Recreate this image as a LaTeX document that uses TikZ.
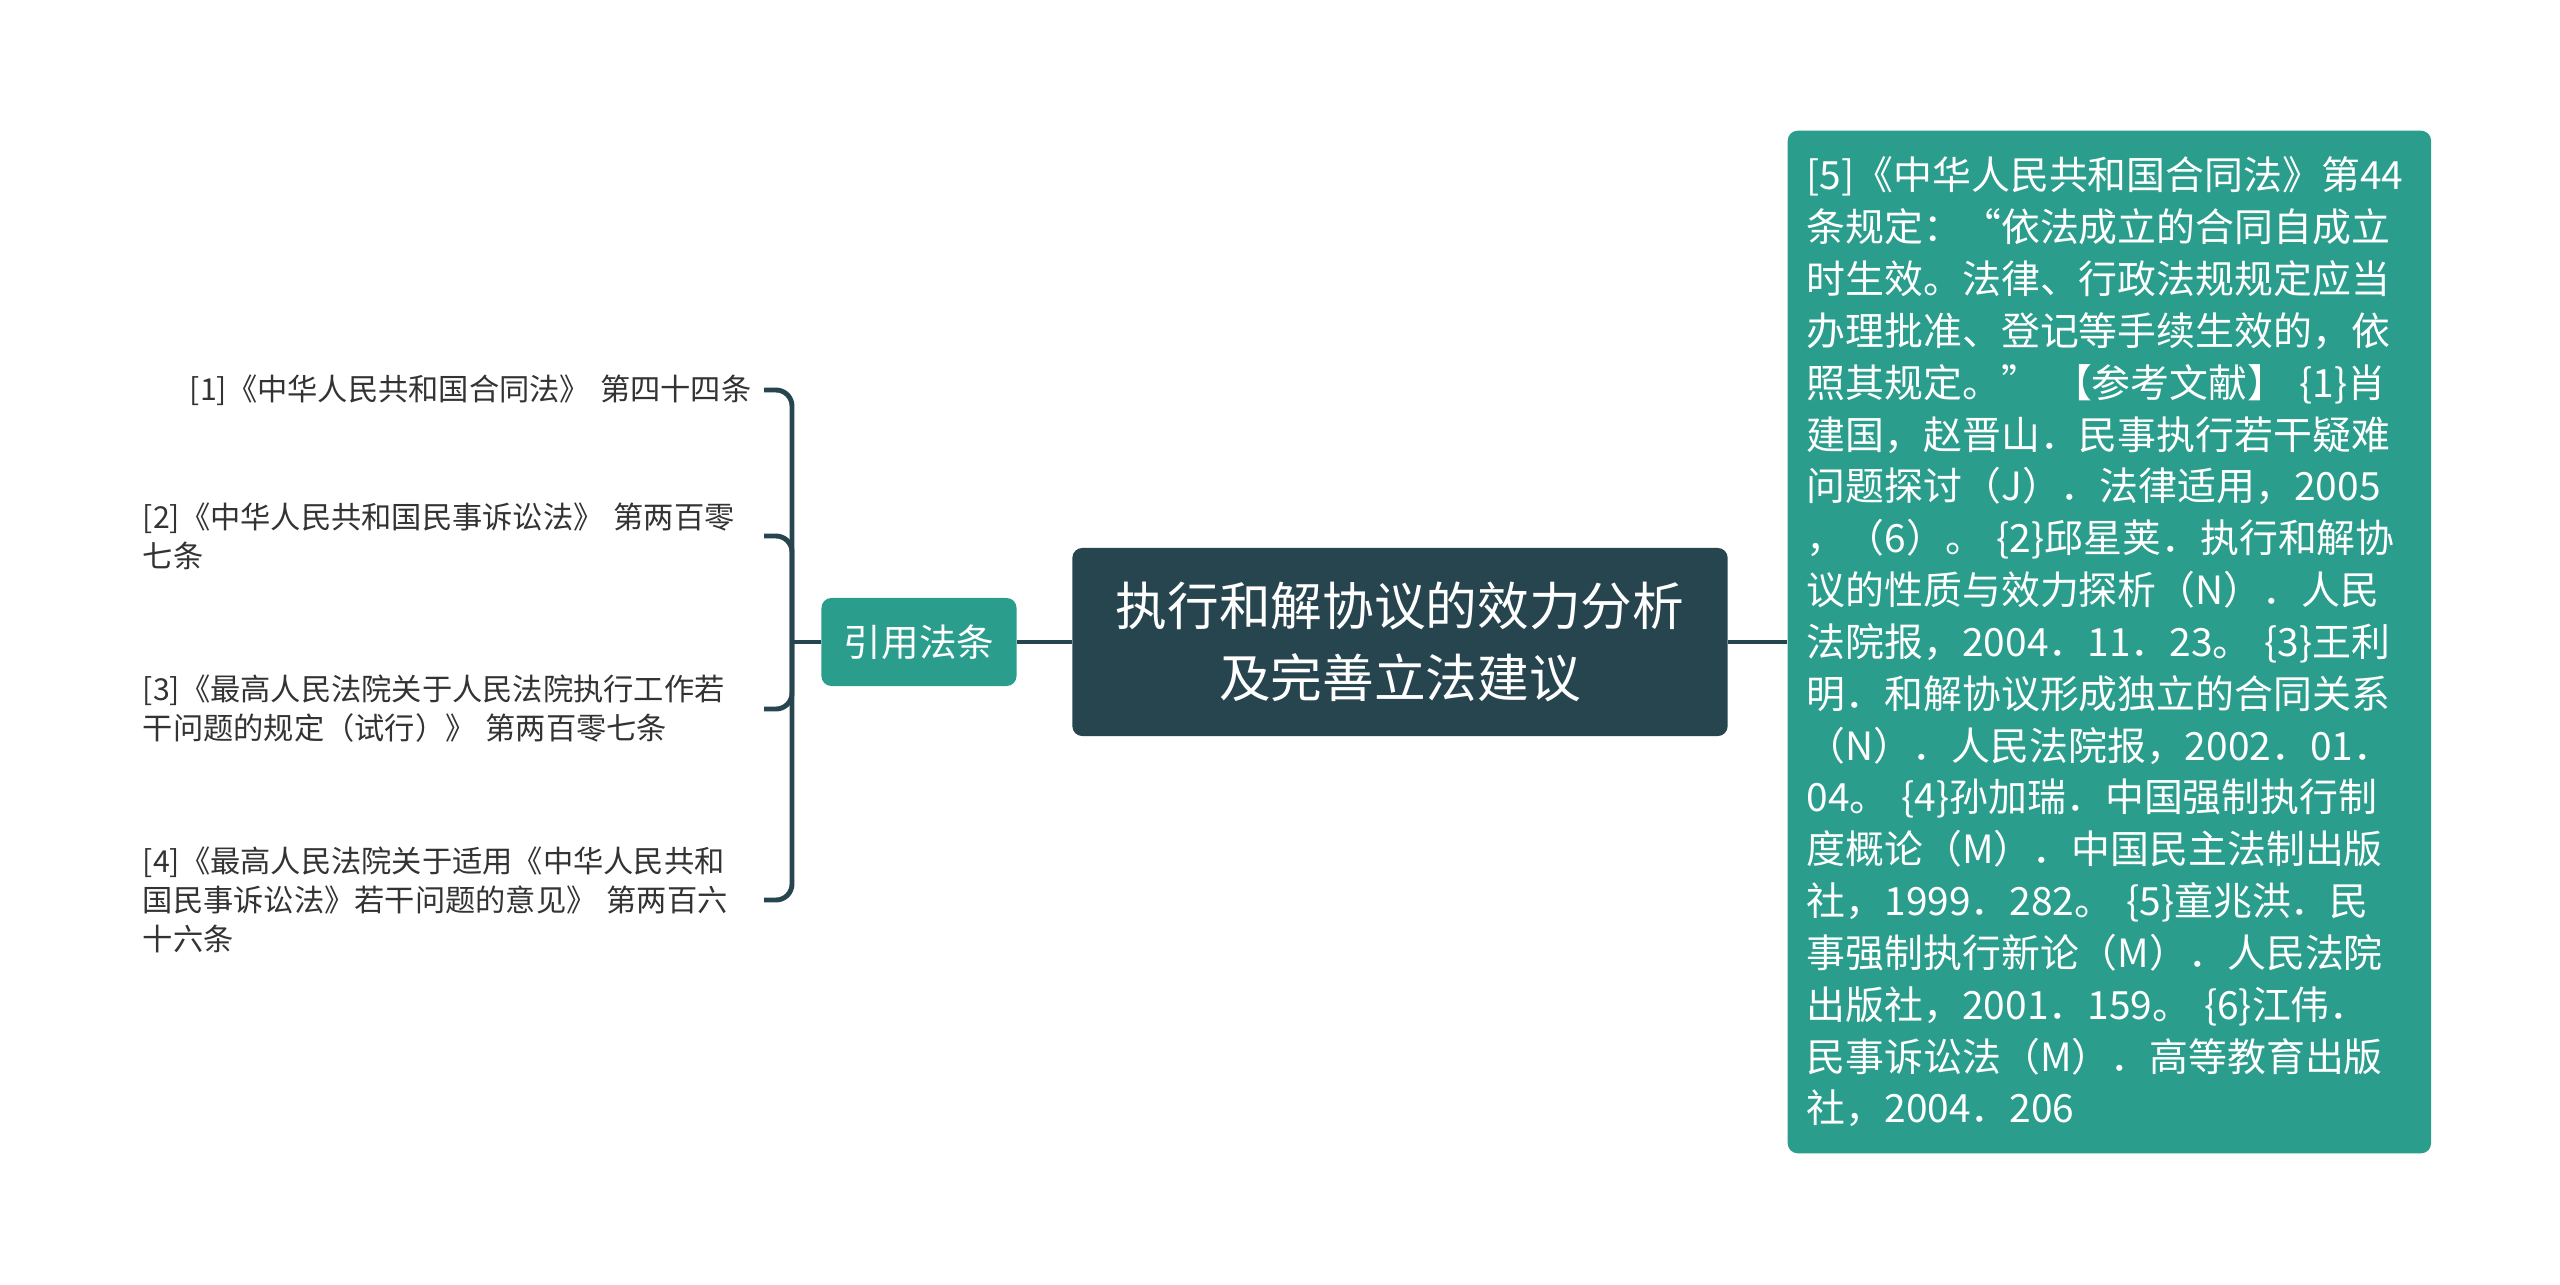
\documentclass[tikz,border=0pt]{standalone}
\usepackage{fontspec}
\setmainfont{Noto Sans CJK SC}
\definecolor{inkblue}{HTML}{27454F}
\definecolor{seagreen}{HTML}{2A9D8C}
\definecolor{textgray}{HTML}{333333}
\tikzset{
  link/.style={draw=inkblue, line width=1.4pt},
  rootbox/.style={fill=inkblue, text=white, rounded corners=0.1cm, minimum width=6.55cm, minimum height=1.88cm, align=center, font=\fontsize{14.7}{20.5}\selectfont},
  branchbox/.style={fill=seagreen, text=white, rounded corners=0.1cm, minimum width=1.95cm, minimum height=0.88cm, font=\fontsize{10.7}{13}\selectfont},
  notebox/.style={fill=seagreen, text=white, rounded corners=0.1cm, text width=6.05cm, inner xsep=0.19cm, minimum height=10.22cm, align=left, anchor=west, font=\fontsize{11.06}{14.74}\selectfont},
  lawitem/.style={text=textgray, text width=6.08cm, inner xsep=0.12cm, anchor=east, align=left, font=\fontsize{8.6}{11.1}\selectfont}
}
\begin{document}
\begin{tikzpicture}[x=0.01cm, y=-0.01cm]
\useasboundingbox[fill=white] (0,0) rectangle (2560,1284);

\node[rootbox] (root) at (1400,642) {执行和解协议的效力分析\\及完善立法建议};
\node[branchbox] (cite) at (919,642) {引用法条};
\node[notebox] (note) at (1787,642) {[5]《中华人民共和国合同法》第44\\条规定：“依法成立的合同自成立\\时生效。法律、行政法规规定应当\\办理批准、登记等手续生效的，依\\照其规定。” 【参考文献】 \{1\}肖\\建国，赵晋山．民事执行若干疑难\\问题探讨（J）．法律适用，2005\\，（6）。 \{2\}邱星荚．执行和解协\\议的性质与效力探析（N）．人民\\法院报，2004．11．23。 \{3\}王利\\明．和解协议形成独立的合同关系\\（N）．人民法院报，2002．01．\\04。 \{4\}孙加瑞．中国强制执行制\\度概论（M）．中国民主法制出版\\社，1999．282。 \{5\}童兆洪．民\\事强制执行新论（M）．人民法院\\出版社，2001．159。 \{6\}江伟．\\民事诉讼法（M）．高等教育出版\\社，2004．206};

\node[lawitem, align=right] (law1) at (764,390) {[1]《中华人民共和国合同法》 第四十四条};
\node[lawitem] (law2) at (764,536) {[2]《中华人民共和国民事诉讼法》 第两百零\\七条};
\node[lawitem] (law3) at (764,709) {[3]《最高人民法院关于人民法院执行工作若\\干问题的规定（试行）》 第两百零七条};
\node[lawitem] (law4) at (764,900) {[4]《最高人民法院关于适用《中华人民共和\\国民事诉讼法》若干问题的意见》 第两百六\\十六条};
\coordinate (fork) at (792,642);

\draw[link] (root.west) -- (cite.east);
\draw[link] (root.east) -- (note.west);
\draw[link] (cite.west) -- (fork);
\draw[link, rounded corners=0.16cm] (law1.east) -| (fork) |- (law4.east);
\draw[link, rounded corners=0.16cm] (law2.east) -| (fork);
\draw[link, rounded corners=0.16cm] (law3.east) -| (fork);

\end{tikzpicture}
\end{document}
